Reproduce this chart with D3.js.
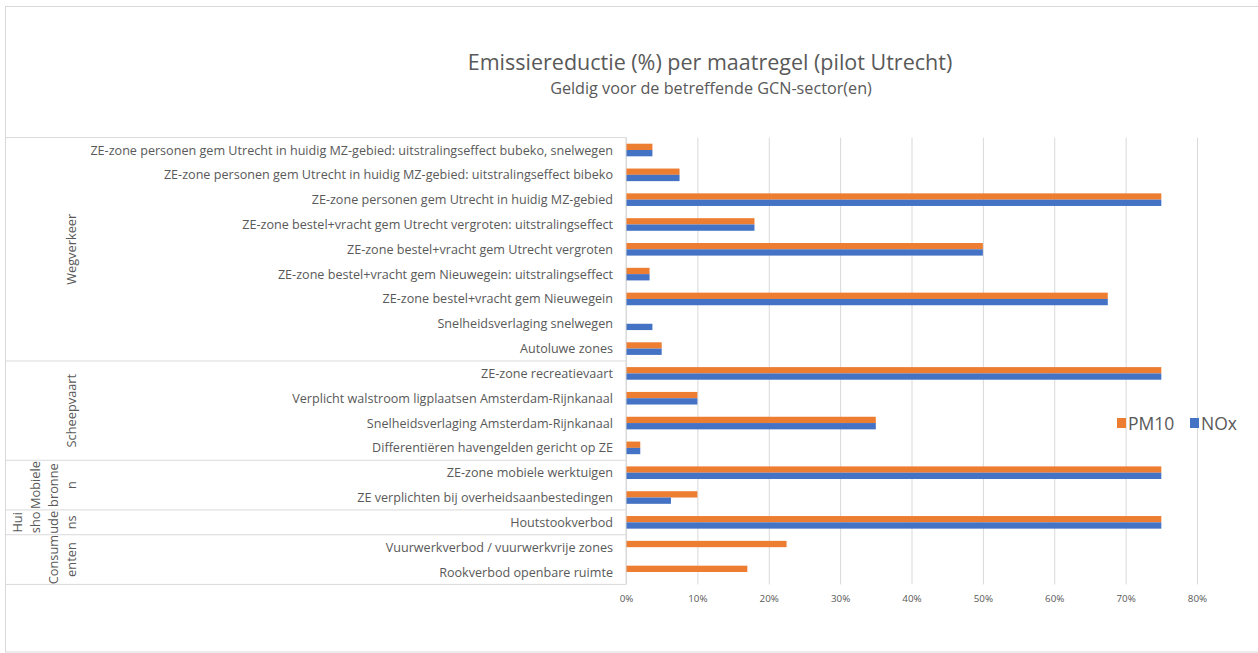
<!DOCTYPE html>
<html>
<head>
<meta charset="utf-8">
<script src="https://cdn.jsdelivr.net/npm/d3@7"></script>
<style>
  body { margin: 0; background: #fff; }
  svg { display: block; font-family: "Open Sans", sans-serif; }
</style>
</head>
<body>
<svg id="chart" width="1258" height="653"></svg>
<script>
// maatregelen, van boven naar beneden
const categories = [
  "ZE-zone personen gem Utrecht in huidig MZ-gebied: uitstralingseffect bubeko, snelwegen",
  "ZE-zone personen gem Utrecht in huidig MZ-gebied: uitstralingseffect bibeko",
  "ZE-zone personen gem Utrecht in huidig MZ-gebied",
  "ZE-zone bestel+vracht gem Utrecht vergroten: uitstralingseffect",
  "ZE-zone bestel+vracht gem Utrecht vergroten",
  "ZE-zone bestel+vracht gem Nieuwegein: uitstralingseffect",
  "ZE-zone bestel+vracht gem Nieuwegein",
  "Snelheidsverlaging snelwegen",
  "Autoluwe zones",
  "ZE-zone recreatievaart",
  "Verplicht walstroom ligplaatsen Amsterdam-Rijnkanaal",
  "Snelheidsverlaging Amsterdam-Rijnkanaal",
  "Differentiëren havengelden gericht op ZE",
  "ZE-zone mobiele werktuigen",
  "ZE verplichten bij overheidsaanbestedingen",
  "Houtstookverbod",
  "Vuurwerkverbod / vuurwerkvrije zones ",
  "Rookverbod openbare ruimte"
];

// sectoren (aantal maatregelen per sector) en hun afgebroken labels
const groupSizes = [9, 4, 2, 1, 2];
const groupLines = [
  ["Wegverkeer"],
  ["Scheepvaart"],
  ["Mobiele", "bronne", "n"],
  ["Hui", "sho", "ude", "ns"],
  ["Consum", "enten"]
];

const pm10 = [0.037, 0.075, 0.75, 0.18, 0.50, 0.033, 0.675, 0, 0.05, 0.75, 0.10, 0.35, 0.02, 0.75, 0.10, 0.75, 0.225, 0.17];
const nox  = [0.037, 0.075, 0.75, 0.18, 0.50, 0.033, 0.675, 0.037, 0.05, 0.75, 0.10, 0.35, 0.02, 0.75, 0.063, 0.75, 0, 0];

const seriesNames = ["PM10", "NOx"];
const xTicks = [0, 0.1, 0.2, 0.3, 0.4, 0.5, 0.6, 0.7, 0.8];

const colors = {PM10: "#ED7D31", NOx: "#4472C4"};
const gridColor = "#D9D9D9";
const textColor = "#595959";

let svg = d3.select("#chart");

let plot = {left: 626, right: 1197, top: 137.6, bottom: 584.4};

let x = d3.scaleLinear()
  .domain([0, 0.8])
  .range([plot.left, plot.right]);

let y = d3.scaleBand()
  .domain(categories)
  .range([plot.top, plot.bottom]);

let barH = 6.3;
let ySub = d3.scaleBand()
  .domain(seriesNames)
  .range([y.bandwidth() / 2 - barH, y.bandwidth() / 2 + barH]);

// buitenrand
svg.append("rect")
  .attr("x", 5.5).attr("y", 6.5)
  .attr("width", 1260).attr("height", 645.5)
  .attr("fill", "none")
  .attr("stroke", gridColor);

// titel
svg.append("text")
  .attr("x", 710).attr("y", 70)
  .attr("text-anchor", "middle")
  .attr("font-size", 21.5)
  .attr("fill", textColor)
  .text("Emissiereductie (%) per maatregel (pilot Utrecht)");

svg.append("text")
  .attr("x", 711).attr("y", 94)
  .attr("text-anchor", "middle")
  .attr("font-size", 16.2)
  .attr("fill", textColor)
  .text("Geldig voor de betreffende GCN-sector(en)");

// gridlijnen
let grid = svg.append("g")
  .attr("transform", `translate(0,${plot.top})`)
  .call(d3.axisBottom(x).tickValues(xTicks).tickSize(plot.bottom - plot.top).tickFormat(""));
grid.select(".domain").remove();
grid.selectAll("line").attr("stroke", gridColor);

// x-as labels
let xAxis = svg.append("g")
  .attr("transform", `translate(0,${plot.bottom})`)
  .call(d3.axisBottom(x).tickValues(xTicks).tickSize(0).tickPadding(11).tickFormat(d3.format(".0%")));
xAxis.select(".domain").remove();
xAxis.selectAll("text")
  .attr("font-family", "Open Sans, sans-serif")
  .attr("font-size", 9.8)
  .attr("fill", textColor);

// staven
let bars = svg.append("g");
seriesNames.forEach((s, si) => {
  let vals = si == 0 ? pm10 : nox;
  bars.selectAll(".bar-" + s)
    .data(categories)
    .enter()
    .append("rect")
    .attr("class", "bar-" + s)
    .attr("x", x(0))
    .attr("y", d => y(d) + ySub(s))
    .attr("width", (d, i) => x(vals[i]) - x(0))
    .attr("height", ySub.bandwidth())
    .attr("fill", colors[s]);
});

// labeltabel: lijnen
let table = svg.append("g").attr("stroke", gridColor).attr("fill", "none");
let bounds = [0];
groupSizes.forEach(n => bounds.push(bounds[bounds.length - 1] + n));
bounds.forEach(b => {
  let yy = plot.top + b * y.step();
  table.append("line")
    .attr("x1", 5).attr("x2", plot.left)
    .attr("y1", yy).attr("y2", yy);
});
table.append("line")
  .attr("x1", plot.left).attr("x2", plot.left)
  .attr("y1", plot.top).attr("y2", plot.bottom);

// maatregel labels
svg.append("g")
  .selectAll("text")
  .data(categories)
  .enter()
  .append("text")
  .attr("x", 613)
  .attr("y", d => y(d) + y.bandwidth() / 2)
  .attr("dy", "0.36em")
  .attr("text-anchor", "end")
  .attr("font-size", 12.6)
  .attr("fill", textColor)
  .text(d => d);

// sector labels (gedraaid)
let lineStep = 18;
groupLines.forEach((lines, gi) => {
  let cy = plot.top + (bounds[gi] + groupSizes[gi] / 2) * y.step();
  let lastX = 76;
  lines.forEach((ln, li) => {
    let bx = lastX - (lines.length - 1 - li) * lineStep;
    svg.append("text")
      .attr("transform", `translate(${bx},${cy}) rotate(-90)`)
      .attr("text-anchor", "middle")
      .attr("font-size", 12.8)
      .attr("fill", textColor)
      .text(ln);
  });
});

// legenda
let legend = svg.append("g");
let legendX = [1117, 1190];
seriesNames.forEach((s, i) => {
  legend.append("rect")
    .attr("x", legendX[i]).attr("y", 418)
    .attr("width", 9).attr("height", 10)
    .attr("fill", colors[s]);
  legend.append("text")
    .attr("x", legendX[i] + 11).attr("y", 429.5)
    .attr("font-size", 17.5)
    .attr("fill", textColor)
    .text(s);
});
</script>
</body>
</html>
